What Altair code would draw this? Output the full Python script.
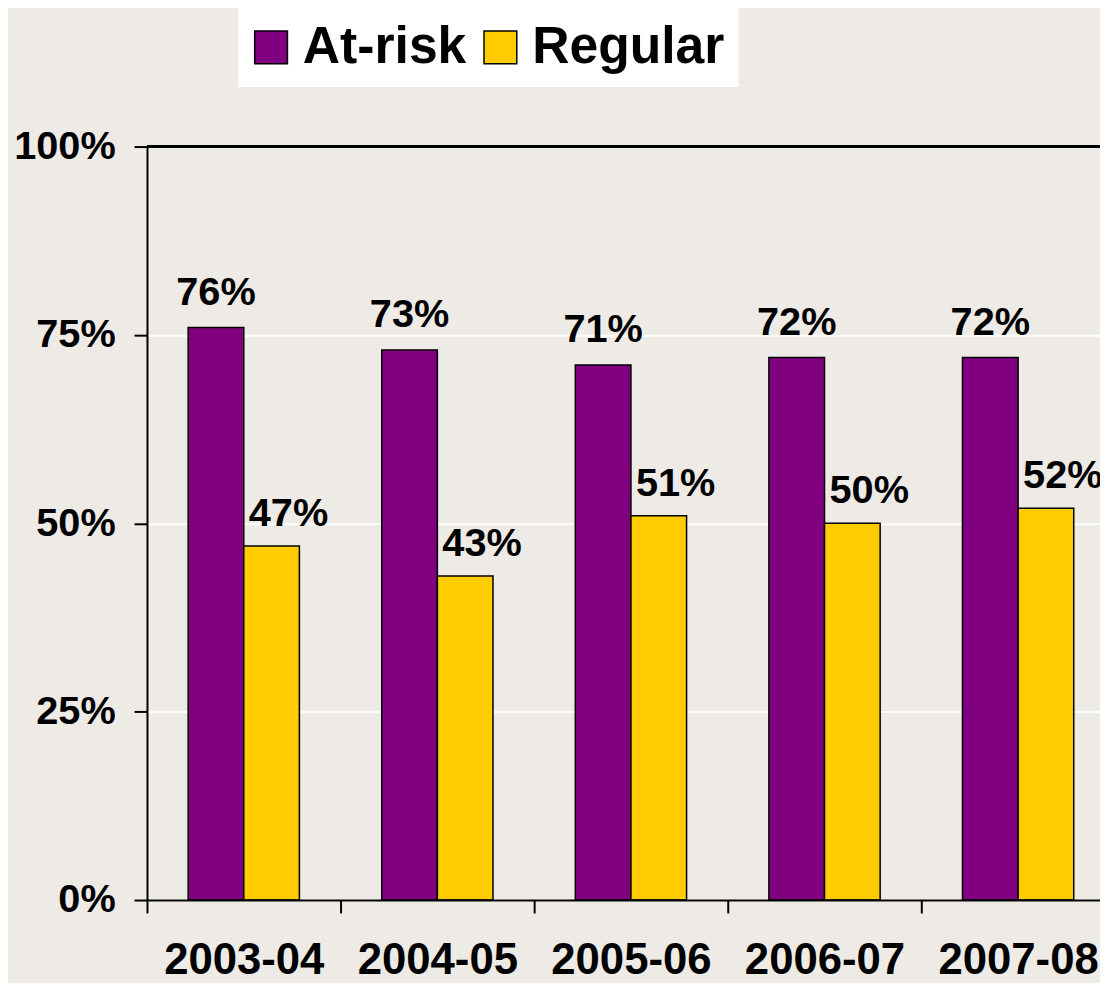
import altair as alt
import pandas as pd

years = ["2003-04", "2004-05", "2005-06", "2006-07", "2007-08"]
at_risk = [76, 73, 71, 72, 72]
regular = [47, 43, 51, 50, 52]
series = ["At-risk", "Regular"]
colors = ["#800080", "#FFCC00"]

rows = []
for i, yr in enumerate(years):
    rows.append({"year": yr, "group": "At-risk", "value": at_risk[i]})
    rows.append({"year": yr, "group": "Regular", "value": regular[i]})
df = pd.DataFrame(rows)

FONT = "Liberation Sans"

x = alt.X(
    "year:N", sort=years,
    scale=alt.Scale(paddingInner=0, paddingOuter=0),
    axis=alt.Axis(title=None, labelAngle=0, labelFontSize=44, labelFontWeight="bold",
                  labelFont=FONT, labelColor="black", labelPadding=26,
                  tickBand="extent", tickSize=13, tickColor="black", tickWidth=2,
                  domainColor="black", domainWidth=2, grid=False, zindex=1),
)
xo = alt.XOffset("group:N", sort=series,
                 scale=alt.Scale(domain=series, paddingOuter=0.74, paddingInner=0))
y = alt.Y(
    "value:Q", scale=alt.Scale(domain=[0, 100]),
    axis=alt.Axis(title=None, values=[0, 25, 50, 75, 100], labelExpr="datum.value + '%'",
                  labelFontSize=40, labelFontWeight="bold", labelFont=FONT, labelColor="black",
                  labelPadding=19, tickSize=13, tickColor="black", tickWidth=2,
                  domainColor="black", domainWidth=2, grid=True, gridColor="white",
                  gridWidth=2, gridOpacity=1),
)

bars = alt.Chart(df).mark_bar(stroke="black", strokeWidth=1.5).encode(
    x=x, xOffset=xo, y=y,
    color=alt.Color("group:N", scale=alt.Scale(domain=series, range=colors),
                    legend=alt.Legend(title=None, orient="none", legendX=92, legendY=-140,
                                      direction="horizontal", fillColor="white", padding=14,
                                      symbolType="square", symbolSize=1089, symbolOffset=-7,
                                      symbolStrokeColor="black", symbolStrokeWidth=1.5,
                                      labelFontSize=52, labelFontWeight="bold", labelFont=FONT,
                                      labelColor="black", labelOffset=6, columnPadding=14,
                                      labelLimit=400)),
)

lab_a = alt.Chart(df).transform_filter("datum.group == 'At-risk'").transform_calculate(
    label="datum.value + '%'"
).mark_text(fontSize=40, fontWeight="bold", font=FONT, color="black", baseline="alphabetic",
            dy=-23).encode(x=x, xOffset=xo, y=y, text="label:N")

lab_r = alt.Chart(df).transform_filter("datum.group == 'Regular'").transform_calculate(
    label="datum.value + '%'"
).mark_text(fontSize=40, fontWeight="bold", font=FONT, color="black", baseline="alphabetic",
            dy=-20, dx=17).encode(x=x, xOffset=xo, y=y, text="label:N")

top = alt.Chart(df).mark_rule(color="black", strokeWidth=2).encode(y=alt.datum(100))

chart = alt.layer(bars, top, lab_a, lab_r).properties(
    width=975, height=759,
    background="#EEEBE6",
    autosize=alt.AutoSizeParams(type="none"),
    padding={"left": 140, "top": 136, "right": -15, "bottom": 80},
).configure_view(stroke=None)

chart.save("out.html", embed_options={"renderer": "svg", "actions": False})
